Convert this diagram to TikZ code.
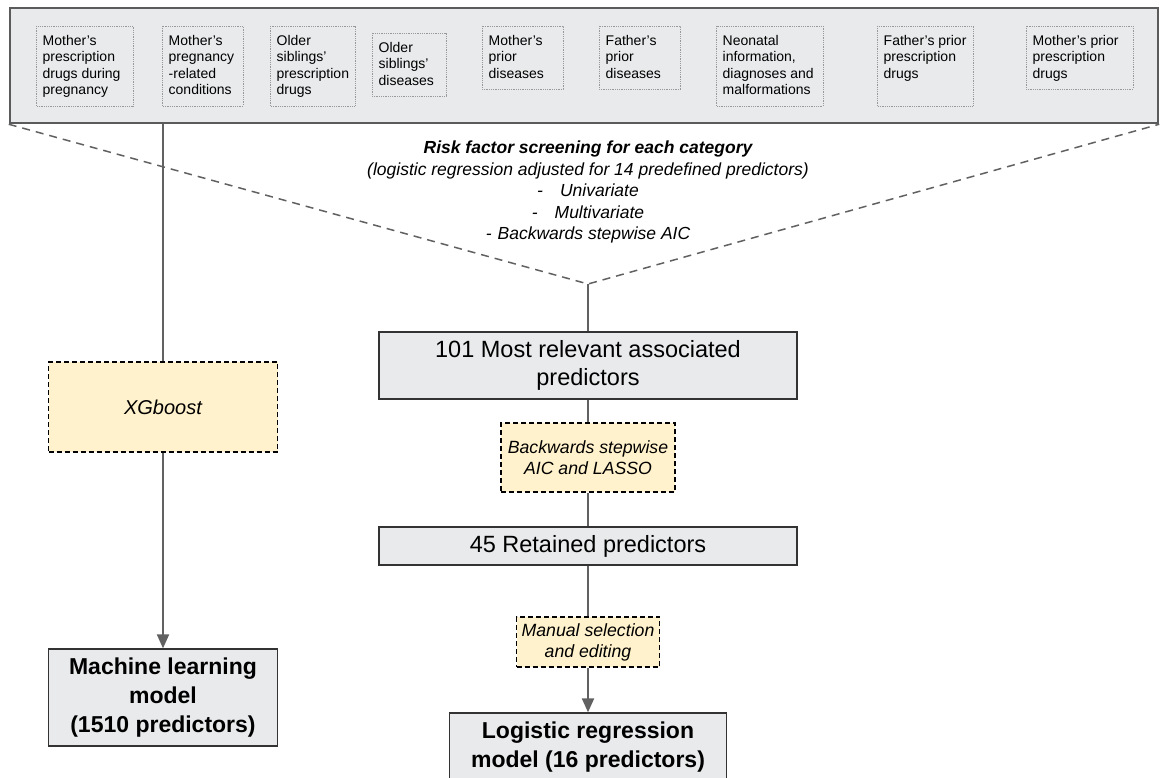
\documentclass[tikz,border=0pt]{standalone}
\usepackage{fontspec}
\setmainfont{Liberation Sans}
\usepackage{tikz}
\usetikzlibrary{arrows.meta}

\definecolor{panelgray}{HTML}{E8EAEB}
\definecolor{panelrim}{HTML}{5B5B5B}
\definecolor{linegray}{HTML}{616161}
\definecolor{methodfill}{HTML}{FFF2CC}

\tikzset{
  catframe/.style={draw=gray!80, densely dotted, line width=0.8pt},
  cattext/.style={anchor=north west, inner sep=0pt, align=left,
    font=\fontsize{14}{16.5}\selectfont},
  stagebox/.style={draw=black!80, fill=panelgray, line width=1.3pt, align=center,
    inner sep=0pt, font=\fontsize{23.5}{27.5}\selectfont},
  modelbox/.style={stagebox, font=\fontsize{23}{29}\selectfont\bfseries},
  methodbox/.style={draw=black, fill=methodfill, dash pattern=on 5pt off 3pt,
    line width=1.4pt, align=center, inner sep=0pt,
    font=\fontsize{17.7}{21}\selectfont\itshape},
  flow/.style={draw=linegray, line width=2pt},
}

\begin{document}
\begin{tikzpicture}[x=1pt,y=-1pt,>={Triangle[length=14pt,width=12pt]}]
  \useasboundingbox (0,0) rectangle (1161,778);

  % panel of predictor categories
  \node[draw=panelrim, fill=panelgray, line width=2.5pt, inner sep=0pt,
    minimum width=1148pt, minimum height=115pt] (panel) at (584,65.5) {};

  \foreach \x/\y/\w/\h/\nm/\txt in {
    36/26/97/80/mrx/{Mother’s\\prescription\\drugs during\\pregnancy},
    162/26/81/80/mpc/{Mother’s\\pregnancy\\-related\\conditions},
    270/26/85/80/sibrx/{Older\\siblings’\\prescription\\drugs},
    372/33/74/63/sibdx/{Older\\siblings’\\diseases},
    482/26/81/63/mdx/{Mother’s\\prior\\diseases},
    599/26/81/63/fdx/{Father’s\\prior\\diseases},
    716/26/107/80/neo/{Neonatal\\information,\\diagnoses and\\malformations},
    877/26/96/80/frx/{Father’s prior\\prescription\\drugs},
    1026/26/107/63/mprx/{Mother’s prior\\prescription\\drugs}}
  {
    \draw[catframe] (\x,\y) rectangle ++(\w,\h);
    \node[cattext] (\nm) at (\x+6.5,\y+9) {\txt};
  }

  % screening step
  \node[font=\fontsize{17.5}{21.5}\selectfont\itshape, align=center, inner sep=0pt]
    (screen) at (588,192)
    {\textbf{Risk factor screening for each category}\\
     (logistic regression adjusted for 14 predefined predictors)\\
     -\hspace{17pt}Univariate\\
     -\hspace{17pt}Multivariate\\
     -\hspace{6pt}Backwards stepwise AIC};
  \coordinate (apex) at (588,284);
  \draw[flow, line width=1.5pt, dash pattern=on 8pt off 6pt]
    (panel.south west) -- (apex) -- (panel.south east);

  % machine learning branch
  \node[methodbox, minimum width=229pt, minimum height=90pt,
    font=\fontsize{20}{24}\selectfont\itshape] (xgb) at (163,407) {XGboost};
  \node[modelbox, minimum width=229pt, minimum height=97pt] (mlm) at (163,697.5)
    {Machine learning\\model\\(1510 predictors)};

  % regression branch
  \node[stagebox, minimum width=418pt, minimum height=67pt] (rel) at (588,365.5)
    {101 Most relevant associated\\predictors};
  \node[methodbox, minimum width=174pt, minimum height=69pt] (bsw) at (588,457.5)
    {Backwards stepwise\\AIC and LASSO};
  \node[stagebox, minimum width=418pt, minimum height=38pt] (kept) at (588,546)
    {45 Retained predictors};
  \node[methodbox, minimum width=143pt, minimum height=50pt] (manual) at (588,642)
    {Manual selection\\and editing};
  \node[modelbox, minimum width=277pt, minimum height=69pt] (lrm) at (588,747.5)
    {Logistic regression\\model (16 predictors)};

  % connectors
  \draw[flow] (panel.south -| xgb.north) -- (xgb.north);
  \draw[flow,->] (xgb.south) -- (mlm.north);
  \draw[flow] (apex) -- (rel.north);
  \draw[flow] (rel.south) -- (bsw.north);
  \draw[flow] (bsw.south) -- (kept.north);
  \draw[flow] (kept.south) -- (manual.north);
  \draw[flow,->] (manual.south) -- (lrm.north);
\end{tikzpicture}
\end{document}
